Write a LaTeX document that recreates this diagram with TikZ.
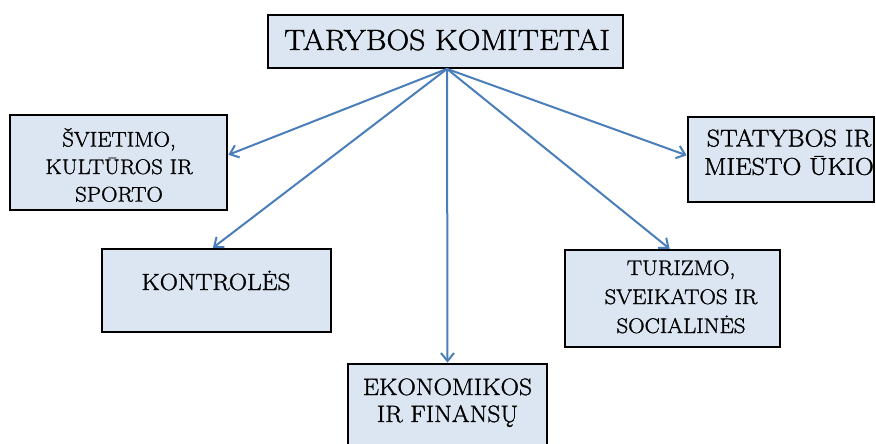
\documentclass[tikz,border=0pt]{standalone}
\usepackage{fontspec}
\setmainfont{Latin Modern Roman}[FakeStretch=1.08, FakeBold=1.3]
\usetikzlibrary{arrows.meta}
\definecolor{boxfill}{HTML}{DCE6F2}
\definecolor{arrowblue}{HTML}{4A7EBB}
\tikzset{
  box/.style={draw=black, line width=1.8pt, fill=boxfill, inner sep=0pt, rectangle},
  lbl/.style={anchor=base, inner sep=0pt, text=black},
  conn/.style={draw=arrowblue, line width=2pt, -{Straight Barb[length=8pt,width=13pt,line width=2pt]}, shorten >=0.5pt}
}
\newcommand{\lines}[3]{{\fontsize{#1}{#2}\selectfont\begin{tabular}[t]{@{}c@{}}#3\end{tabular}}}
\begin{document}
\begin{tikzpicture}[x=1pt,y=-1pt]
\useasboundingbox (0,0) rectangle (876,444);
\clip (0,0) rectangle (876,444);
\fill[white] (0,0) rectangle (876,444);
% boxes
\node[box, minimum width=355pt, minimum height=53pt] (top) at (445.5,41.5) {};
\node[box, minimum width=217pt, minimum height=95pt] (sviet) at (118.5,162.5) {};
\node[box, minimum width=186pt, minimum height=85pt] (stat) at (781,159.5) {};
\node[box, minimum width=229pt, minimum height=83pt] (kontr) at (216.5,290.5) {};
\node[box, minimum width=215pt, minimum height=97pt] (turiz) at (672.5,298.5) {};
\node[box, minimum width=199pt, minimum height=86pt] (ekon) at (447.5,407) {};
% texts
\node[lbl] (topt) at (447,50) {\lines{29.3}{34}{TARYBOS KOMITETAI}};
\node[lbl] (svt) at (119,146.5) {\lines{21.1}{27.5}{ŠVIETIMO,\\KULTŪROS IR\\SPORTO}};
\node[lbl] (stt) at (789,146.5) {\lines{24.3}{28.3}{STATYBOS IR\\MIESTO ŪKIO}};
\node[lbl] (kot) at (216,290) {\lines{23.4}{27}{KONTROLĖS}};
\node[lbl] (tut) at (681,275) {\lines{21.1}{29}{TURIZMO,\\SVEIKATOS IR\\SOCIALINĖS}};
\node[lbl] (ekt) at (447.5,395) {\lines{23.7}{27}{EKONOMIKOS\\IR FINANSŲ}};
% connectors
\draw[conn] ([xshift=1.5pt]top.south) -- ([yshift=7.5pt]sviet.east);
\draw[conn] ([xshift=1.5pt]top.south) -- ([xshift=-4pt]kontr.north);
\draw[conn] ([xshift=1.5pt]top.south) -- (ekon.north);
\draw[conn] ([xshift=1.5pt]top.south) -- ([xshift=-2.5pt]turiz.north);
\draw[conn] ([xshift=1.5pt]top.south) -- ([yshift=4pt]stat.west);
\end{tikzpicture}
\end{document}
